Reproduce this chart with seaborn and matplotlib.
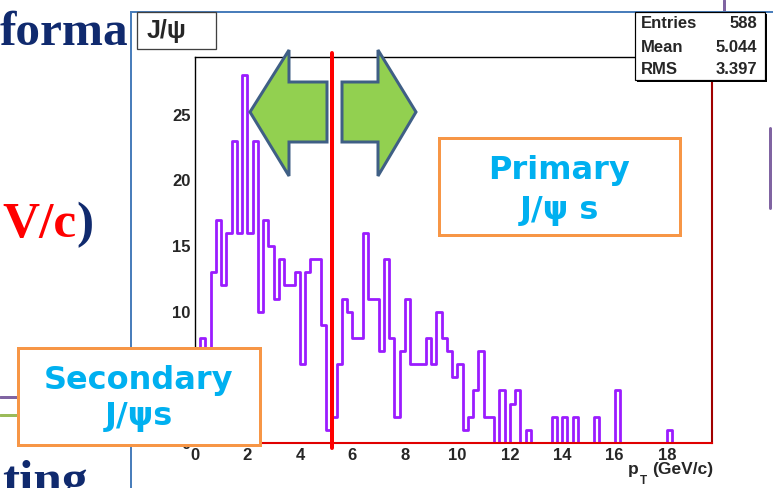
import numpy as np
import pandas as pd
import matplotlib
matplotlib.use("Agg")
import matplotlib.pyplot as plt
from matplotlib.patches import Rectangle, Polygon
from matplotlib.ticker import MultipleLocator
import seaborn as sns

# ---- J/psi candidates per 0.2 GeV/c pT bin, 0-20 GeV/c ----
bin_edges = [round(0.2 * i, 1) for i in range(101)]
counts = [6, 8, 6, 13, 17, 12, 16, 23, 16, 28,
          16, 23, 10, 17, 15, 11, 14, 12, 12, 13,
          6, 13, 14, 14, 9, 1, 2, 6, 11, 10,
          8, 8, 16, 11, 11, 7, 14, 8, 2, 7,
          11, 6, 6, 6, 8, 6, 10, 8, 7, 5,
          6, 1, 2, 4, 7, 2, 2, 0, 4, 0,
          3, 4, 0, 1, 0, 0, 0, 0, 2, 0,
          2, 0, 2, 0, 0, 0, 2, 0, 0, 0,
          4, 0, 0, 0, 0, 0, 0, 0, 0, 0,
          1, 0, 0, 0, 0, 0, 0, 0, 0, 0]
stat_labels = ["Entries", "Mean", "RMS"]
stat_values = ["588", "5.044", "3.397"]
x_ticks = [0, 2, 4, 6, 8, 10, 12, 14, 16, 18]
y_ticks = [0, 5, 10, 15, 20, 25]
cut_pt = 5.22          # boundary between the two samples
hist_title = "J/\u03c8"
x_title = "(GeV/c)"

W, H = 773, 488
PX = 0.72              # points per pixel at 100 dpi

PURPLE = "#9B1CFF"
ORANGE = "#F79646"
CYAN = "#00B0F0"
NAVY = "#102A6E"

sns.set_style("white")
plt.rcParams["font.family"] = ["Liberation Sans", "DejaVu Sans"]

fig = plt.figure(figsize=(W / 100, H / 100), dpi=100)
fig.patch.set_facecolor("white")

# ---- slide layer (text behind the inserted plot) ----
bg = fig.add_axes([0, 0, 1, 1], zorder=0)
bg.set_xlim(0, W)
bg.set_ylim(H, 0)
bg.axis("off")
serif = dict(family=["Liberation Serif", "DejaVu Serif"], weight="bold",
             va="baseline", ha="left", zorder=1)
bg.text(0, 45, "forma", color=NAVY, fontsize=35.5, **serif)
bg.text(2, 237, "V/c", color="#FF0000", fontsize=37, **serif)
bg.text(76, 237, ")", color=NAVY, fontsize=37, **serif)
bg.text(2, 495, "ting", color=NAVY, fontsize=37, **serif)
bg.plot([0, 18], [397, 397], color="#8064A2", lw=3 * PX, zorder=1)
bg.plot([0, 18], [415, 415], color="#9BBB59", lw=3 * PX, zorder=1)
bg.plot([724, 724], [0, 11], color="#8064A2", lw=3 * PX, zorder=1)
bg.add_patch(Rectangle((131, 12), 700, 500, facecolor="white",
                       edgecolor="#4A7EBB", lw=2 * PX, zorder=2))

# ---- histogram ----
edges = np.array(bin_edges)
hist_df = pd.DataFrame({"pt": (edges[:-1] + edges[1:]) / 2, "n": counts})
ax = fig.add_axes([195 / W, (H - 443) / H, 517 / W, 386 / H], zorder=1)
sns.histplot(data=hist_df, x="pt", weights="n", bins=bin_edges,
             element="step", fill=False, color=PURPLE, linewidth=2.0, ax=ax)
ax.set_xlim(0, 19.71)
ax.set_ylim(0, 29.4)
ax.set_xlabel("")
ax.set_ylabel("")
ax.set_xticks(x_ticks)
ax.set_yticks(y_ticks)
ax.xaxis.set_minor_locator(MultipleLocator(0.5))
ax.yaxis.set_minor_locator(MultipleLocator(1))
ax.tick_params(which="both", direction="in", top=False, right=False,
               width=1.0, color="black", labelsize=12)
ax.tick_params(axis="y", which="major", length=10.8, pad=3.0)
ax.tick_params(axis="y", which="minor", length=5.8)
ax.tick_params(axis="x", which="major", length=8.5, pad=3.6)
ax.tick_params(axis="x", which="minor", length=5)
for lab in ax.get_xticklabels() + ax.get_yticklabels():
    lab.set_fontweight("bold")
for side in ["top", "left"]:
    ax.spines[side].set_color("black")
    ax.spines[side].set_linewidth(1.0)
ax.spines["bottom"].set_color("#E00000")
ax.spines["bottom"].set_linewidth(1.5)
ax.spines["right"].set_color("#A00000")
ax.spines["right"].set_linewidth(1.5)
ax.plot([cut_pt, cut_pt], [-0.35, 29.7], color="#FF0000", lw=4 * PX,
        clip_on=False, zorder=5)

# ---- annotations drawn over the plot ----
ov = fig.add_axes([0, 0, 1, 1], zorder=2)
ov.set_xlim(0, W)
ov.set_ylim(H, 0)
ov.axis("off")
ov.patch.set_alpha(0)

# title box
ov.add_patch(Rectangle((137, 12), 79, 37, facecolor="white",
                       edgecolor="#404040", lw=1.3 * PX))
ov.text(147, 31, hist_title, fontsize=18, fontweight="bold",
        ha="left", va="center")

# statistics box with drop shadow
ov.add_patch(Rectangle((637, 14), 130, 68, facecolor="black", lw=0))
ov.add_patch(Rectangle((635, 12), 130, 68, facecolor="white",
                       edgecolor="black", lw=1.2 * PX))
for i, (lab, val) in enumerate(zip(stat_labels, stat_values)):
    yy = 24 + 23 * i
    ov.text(641, yy, lab, fontsize=12, fontweight="bold",
            ha="left", va="center")
    ov.text(757, yy, val, fontsize=12, fontweight="bold",
            ha="right", va="center")

# axis title
ov.text(713, 474, x_title, fontsize=12.5, fontweight="bold",
        ha="right", va="baseline")
ov.text(628, 474, "p", fontsize=12.5, fontweight="bold",
        ha="left", va="baseline")
ov.text(640, 484, "T", fontsize=8.5, fontweight="bold",
        ha="left", va="baseline")

# arrows either side of the cut
arrow_style = dict(facecolor="#92D050", edgecolor="#3F5F85",
                   lw=3 * PX, joinstyle="miter")
ov.add_patch(Polygon([(250, 112), (289, 50), (289, 82), (327, 82),
                      (327, 142), (289, 142), (289, 176)], **arrow_style))
ov.add_patch(Polygon([(342, 82), (378, 82), (378, 50), (416, 112),
                      (378, 176), (378, 142), (342, 142)], **arrow_style))

# sample labels
box_style = dict(facecolor="white", edgecolor=ORANGE, lw=3 * PX)
label_font = dict(family=["DejaVu Sans"], fontsize=23, fontweight="bold",
                  color=CYAN, ha="center", va="center")
ov.add_patch(Rectangle((439, 138), 241, 97, **box_style))
ov.text(559, 170, "Primary", **label_font)
ov.text(559, 210, "J/\u03c8 s", **label_font)
ov.add_patch(Rectangle((18, 348), 242, 97, **box_style))
ov.text(139, 381, "Secondary", **label_font)
ov.text(139, 417, "J/\u03c8s", **label_font)

ov.plot([769.5, 769.5], [128, 208], color="#8064A2", lw=3 * PX)

fig.savefig("out.png", dpi=100)
